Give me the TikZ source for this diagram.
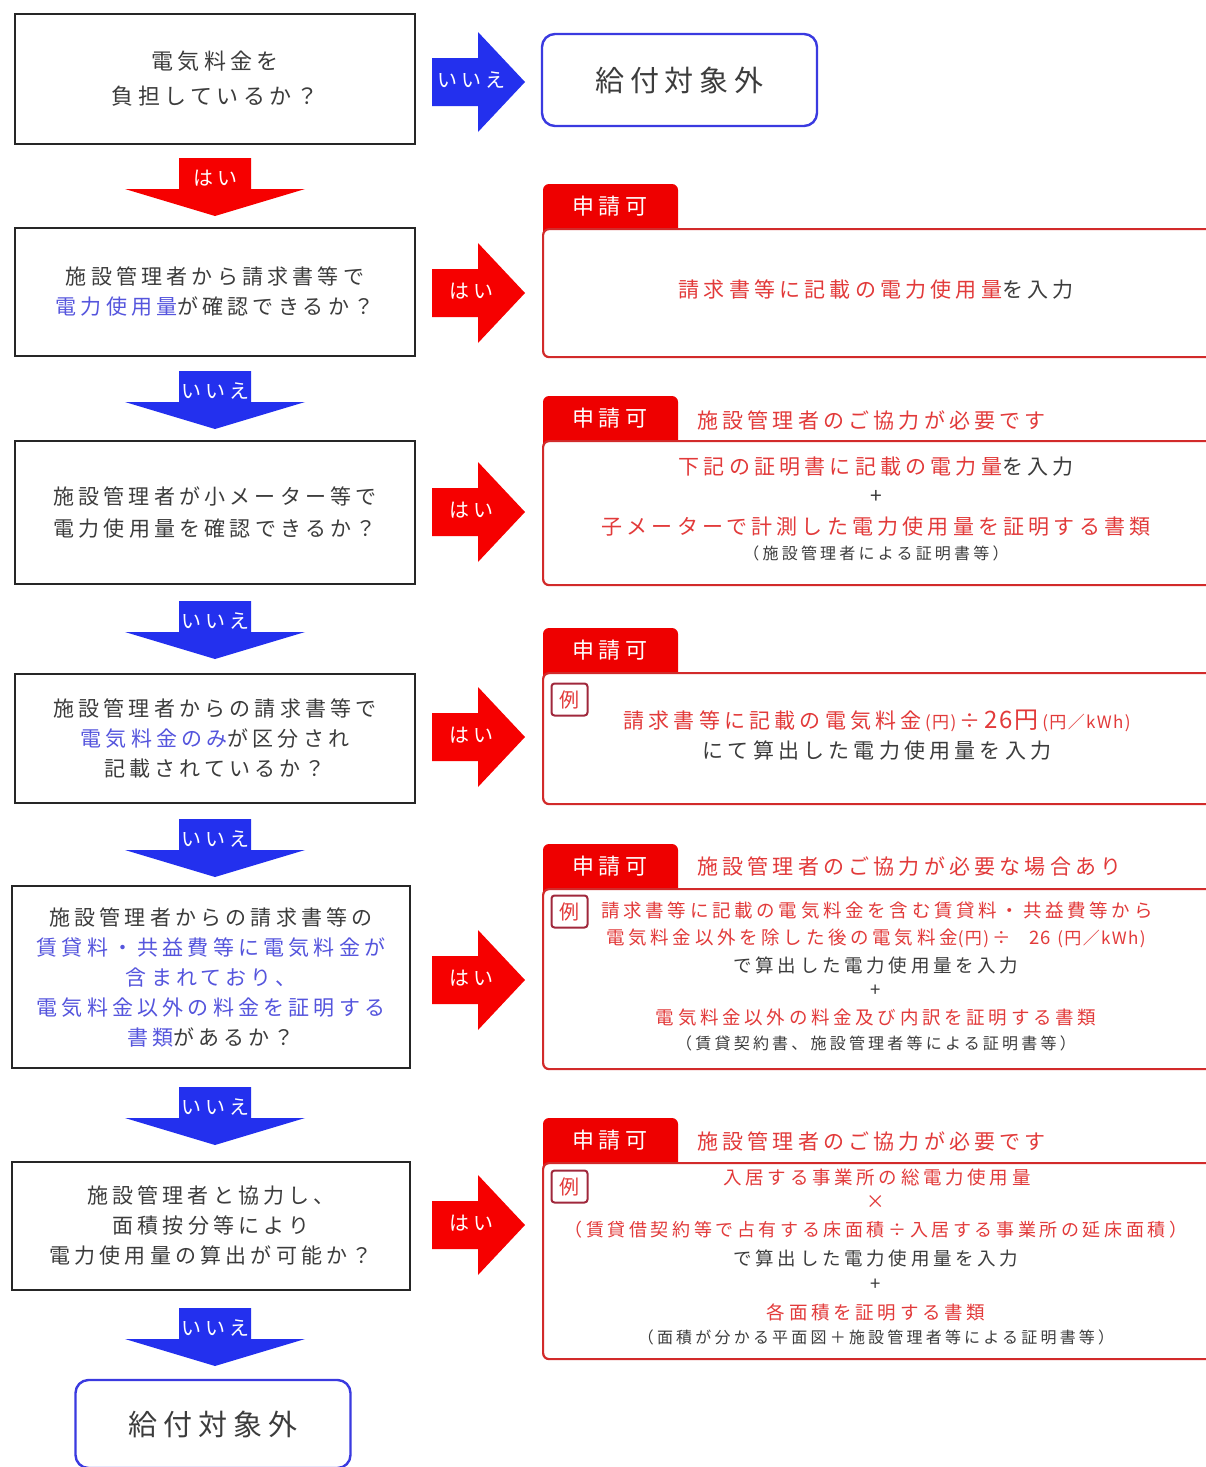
\documentclass[tikz,border=0pt]{standalone}
\usepackage{fontspec}
\usetikzlibrary{calc}
\newfontfamily\jp[LetterSpace=20]{Noto Sans CJK JP}
\newfontfamily\jpn{Noto Sans CJK JP}
\newfontfamily\jpm[LetterSpace=8]{Noto Sans CJK JP}
\newcommand\fz[2]{\fontsize{#1pt}{#2pt}\selectfont}
\definecolor{gtext}{HTML}{3C3C3C}
\definecolor{btext}{HTML}{5555DD}
\definecolor{rtext}{HTML}{E23A3A}
\definecolor{ared}{HTML}{F60000}
\definecolor{ablue}{HTML}{2330EE}
\definecolor{pred}{HTML}{D22A2A}
\definecolor{tabred}{HTML}{EE0000}
\definecolor{reiline}{HTML}{A0283C}
\definecolor{qline}{HTML}{262626}
\definecolor{eblue}{HTML}{3A3AE0}
\begin{document}
\begin{tikzpicture}[x=1pt,y=-1pt,
  qbox/.style={draw=qline,line width=2pt,fill=white,minimum width=400pt,align=center,inner sep=0pt,text=gtext,font={\jp\fz{21}{30}}},
  endbox/.style={draw=eblue,line width=2.4pt,rounded corners=13pt,minimum width=275pt,align=center,inner sep=0pt,font={\jp\fz{29}{34}},text=gtext},
  panel/.style={draw=pred,fill=white,line width=2.2pt,rounded corners=6pt,minimum width=690pt,anchor=north west,inner sep=0pt},
  tabtxt/.style={text=white,font={\jp\fz{22}{26}},inner sep=0pt},
  hdr/.style={anchor=west,text=rtext,font={\jp\fz{21}{25}},inner sep=0pt},
  ln/.style={inner sep=0pt,text=gtext,font={\jp\fz{21}{25}}},
  lns/.style={inner sep=0pt,text=gtext,font={\jp\fz{18.5}{22}}},
  lnt/.style={inner sep=0pt,text=gtext,font={\jp\fz{16}{20}}},
  rei/.style={draw=reiline,line width=2pt,rounded corners=3pt,minimum width=36pt,minimum height=32pt,inner sep=0pt,text=rtext,font={\jpn\fz{20}{22}}},
  lbl/.style={text=white,font={\jp\fz{20}{22}},inner sep=0pt},
  pics/darrow/.style 2 args={code={
    \fill[#1] (-36,0) -- (36,0) -- (36,31) -- (90,31) -- (0,58) -- (-90,31) -- (-36,31) -- cycle;
    \node[lbl] (-l) at (0,20) {#2};
  }},
  pics/rarrow/.style 2 args={code={
    \fill[#1] (0,-24) -- (46,-24) -- (46,-50) -- (93,0) -- (46,50) -- (46,24) -- (0,24) -- cycle;
    \node[lbl] (-l) at (39,-2) {#2};
  }},
  pics/tab/.style={code={
    \fill[tabred,rounded corners=6pt] (0,10) rectangle (135,-44);
    \node[tabtxt] (-t) at (67,-22) {申請可};
  }},
]
\useasboundingbox (0,0) rectangle (1206,1467);
\fill[white] (0,0) rectangle (1206,1467);

% ---------- left question boxes ----------
\node[qbox,minimum height=130pt,font={\jp\fz{22}{35}}] (q1) at (215,79) {電気料金を\\負担しているか？};
\node[qbox,minimum height=128pt] (q2) at (215,292) {施設管理者から請求書等で\\\textcolor{btext}{電力使用量}が確認できるか？};
\node[qbox,minimum height=143pt,font={\jp\fz{21}{32}}] (q3) at (215,512.5) {施設管理者が小メーター等で\\電力使用量を確認できるか？};
\node[qbox,minimum height=129pt] (q4) at (215,738.5) {施設管理者からの請求書等で\\\textcolor{btext}{電気料金のみ}が区分され\\記載されているか？};
\node[qbox,minimum height=182pt,minimum width=398pt] (q5) at (211,977) {施設管理者からの請求書等の\\\textcolor{btext}{賃貸料・共益費等に電気料金が}\\\textcolor{btext}{含まれており、}\\\textcolor{btext}{電気料金以外の料金を証明する}\\\textcolor{btext}{書類}があるか？};
\node[qbox,minimum height=128pt,minimum width=398pt] (q6) at (211,1226) {施設管理者と協力し、\\面積按分等により\\電力使用量の算出が可能か？};

% ---------- end boxes ----------
\node[endbox,minimum height=92pt] (e0) at (679.5,80) {給付対象外};
\node[endbox,minimum height=88pt] (e1) at (213,1424) {給付対象外};

% ---------- down arrows ----------
\pic (a1) at ($(q1.south)+(0,13)$) {darrow={ared}{はい}};
\pic (a2) at ($(q2.south)+(0,14)$) {darrow={ablue}{いいえ}};
\pic (a3) at ($(q3.south)+(0,16)$) {darrow={ablue}{いいえ}};
\pic (a4) at ($(q4.south)+(0,15)$) {darrow={ablue}{いいえ}};
\pic (a5) at ($(q5.south)+(4,18)$) {darrow={ablue}{いいえ}};
\pic (a6) at ($(q6.south)+(4,17)$) {darrow={ablue}{いいえ}};

% ---------- right arrows ----------
\pic (r1) at (432,82) {rarrow={ablue}{いいえ}};
\pic (r2) at (432,293) {rarrow={ared}{はい}};
\pic (r3) at (432,512) {rarrow={ared}{はい}};
\pic (r4) at (432,737) {rarrow={ared}{はい}};
\pic (r5) at (432,980) {rarrow={ared}{はい}};
\pic (r6) at (432,1225) {rarrow={ared}{はい}};

% ---------- panel 1 ----------
\pic (t1) at (543,228) {tab};
\node[panel,minimum height=128pt] (p1) at (542,228) {};
\node[ln] (p1a) at (876,290) {\textcolor{rtext}{請求書等に記載の電力使用量}を入力};

% ---------- panel 2 ----------
\pic (t2) at (543,440) {tab};
\node[panel,minimum height=144pt] (p2) at (542,440) {};
\node[hdr] (h2) at (697,420) {施設管理者のご協力が必要です};
\node[ln] (p2a) at (876,467) {\textcolor{rtext}{下記の証明書に記載の電力量}を入力};
\node[ln] (p2b) at (876,497) {+};
\node[ln,text=rtext] (p2c) at (876,527) {子メーターで計測した電力使用量を証明する書類};
\node[lnt] (p2d) at (876,553) {（施設管理者による証明書等）};

% ---------- panel 3 ----------
\pic (t3) at (543,672) {tab};
\node[panel,minimum height=131pt] (p3) at (542,672) {};
\node[rei] (x3) at (569.5,699.5) {例};
\node[ln,text=rtext] (p3a) at (877,721) {請求書等に記載の電気料金\,{\jpm\fz{17}{18}(円)}\,{\jpn÷}\,{\jpm\fz{24}{25}26円}\,{\jpm\fz{17}{18}(円／kWh)}};
\node[ln] (p3b) at (877,751) {にて算出した電力使用量を入力};

% ---------- panel 4 ----------
\pic (t4) at (543,888) {tab};
\node[panel,minimum height=180pt] (p4) at (542,888) {};
\node[hdr] (h4) at (697,866) {施設管理者のご協力が必要な場合あり};
\node[rei] (x4) at (569.5,911.5) {例};
\node[lns,text=rtext] (p4a) at (877,910) {請求書等に記載の電気料金を含む賃貸料・共益費等から};
\node[lns,text=rtext] (p4b) at (876,938) {電気料金以外を除した後の電気料金{\jpm\fz{17}{18}(円)}\,{\jpn÷}\quad{\jpm 26}\,\,{\jpm\fz{17}{18}(円／kWh)}};
\node[lns] (p4c) at (876,965) {で算出した電力使用量を入力};
\node[lns] (p4d) at (876,991) {+};
\node[lns,text=rtext] (p4e) at (876,1018) {電気料金以外の料金及び内訳を証明する書類};
\node[lnt] (p4f) at (876,1043) {（賃貸契約書、施設管理者等による証明書等）};

% ---------- panel 5 ----------
\pic (t5) at (543,1162) {tab};
\node[panel,minimum height=196pt] (p5) at (542,1162) {};
\node[hdr] (h5) at (697,1141) {施設管理者のご協力が必要です};
\node[rei] (x5) at (569.5,1186.5) {例};
\node[lns,text=rtext] (p5a) at (877,1177) {入居する事業所の総電力使用量};
\node[lns,text=rtext] (p5b) at (876,1202) {×};
\node[lns,text=rtext,font={\jp\fz{18}{22}}] (p5c) at (876,1230) {（賃貸借契約等で占有する床面積÷入居する事業所の延床面積）};
\node[lns] (p5d) at (876,1258) {で算出した電力使用量を入力};
\node[lns] (p5e) at (876,1285) {+};
\node[lns,text=rtext] (p5f) at (876,1312) {各面積を証明する書類};
\node[lnt] (p5g) at (876,1337) {（面積が分かる平面図＋施設管理者等による証明書等）};
\end{tikzpicture}
\end{document}
